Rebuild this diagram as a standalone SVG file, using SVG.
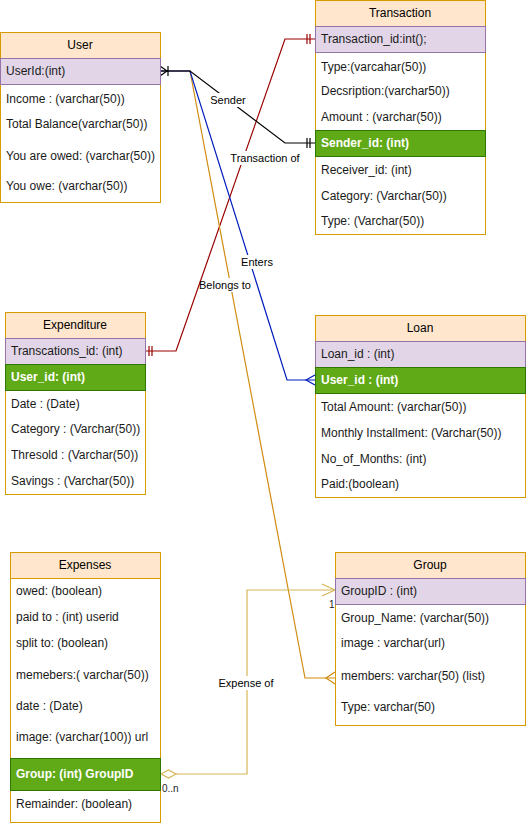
<svg xmlns="http://www.w3.org/2000/svg" width="526" height="826" viewBox="0 0 526 826">
<style>
text{font-family:"Liberation Sans",Arial,sans-serif;font-size:12px;fill:#1a1a1a;dominant-baseline:central}
.hd{text-anchor:middle;fill:#000}
.box{fill:#fff;stroke:#d79b00;stroke-width:1}
.head{fill:#ffe6cc;stroke:#d79b00;stroke-width:1}
.pk{fill:#e1d5e7;stroke:#9673a6;stroke-width:1}
.fk{fill:#60a917;stroke:#2d7600;stroke-width:1}
.fkt{fill:#fff;font-weight:bold}
.ln{fill:none;stroke-width:1.2}
.lbl{font-size:11px;text-anchor:middle;fill:#000}
.lb{fill:#fff}
</style>
<rect width="526" height="826" fill="#fff"/>
<g id="connectors">
  <!-- Transaction of (red) -->
  <path class="ln" stroke="#990000" d="M146 351 H176 L285 39 H316"/>
  <path class="ln" stroke="#990000" d="M149 346 V356 M152 346 V356 M307 34 V44 M310 34 V44"/>
  <!-- Belongs to (orange) -->
  <path class="ln" stroke="#d08c10" d="M160 71 H190 L305 678 H335"/>
  <path class="ln" stroke="#d08c10" d="M335 672 L326 678 L335 684"/>
  <!-- Enters (blue) -->
  <path class="ln" stroke="#001dbc" d="M160 71 H190 L287 380 H315"/>
  <path class="ln" stroke="#001dbc" d="M315 375 L306 380 L315 385"/>
  <!-- Sender (black) -->
  <path class="ln" stroke="#000" d="M160 71 H190 L285 143 H316"/>
  <path class="ln" stroke="#000" d="M307 138 V148 M310 138 V148"/>
  <path class="ln" stroke="#000" d="M160 66 L167 71 L160 76 M168 66 V76"/>
  <!-- Expense of (gold) -->
  <path class="ln" stroke="#d6b656" d="M176 774 H247 V590 H335"/>
  <path class="ln" stroke="#d6b656" d="M322 584 L335 590 L322 596"/>
  <path fill="#fff" stroke="#d6b656" stroke-width="1.2" d="M161 774 L168.5 770 L176 774 L168.5 778 Z"/>
  <!-- labels -->
  <rect class="lb" x="208" y="93" width="40" height="14"/>
  <text class="lbl" x="228" y="100">Sender</text>
  <rect class="lb" x="228" y="151" width="74" height="14"/>
  <text class="lbl" x="265" y="158">Transaction of</text>
  <rect class="lb" x="239" y="255" width="36" height="14"/>
  <text class="lbl" x="257" y="262">Enters</text>
  <rect class="lb" x="202" y="278" width="48" height="14"/>
  <text class="lbl" x="225" y="285">Belongs to</text>
  <rect class="lb" x="218" y="676" width="56" height="14"/>
  <text class="lbl" x="246" y="683">Expense of</text>
  <text x="329" y="604" style="font-size:10px">1</text>
  <text x="162" y="788" style="font-size:10px">0..n</text>
</g>
<g id="user">
  <rect class="box" x="0.5" y="32.5" width="160" height="170"/>
  <rect class="head" x="0.5" y="32.5" width="160" height="26"/>
  <rect class="pk" x="0.5" y="58.5" width="160" height="26"/>
  <text class="hd" x="80" y="45">User</text>
  <text x="6" y="71">UserId:(int)</text>
  <text x="6" y="99">Income : (varchar(50))</text>
  <text x="6" y="124">Total Balance(varchar(50))</text>
  <text x="6" y="156">You are owed: (varchar(50))</text>
  <text x="6" y="186">You owe: (varchar(50))</text>
</g>
<g id="transaction">
  <rect class="box" x="315.5" y="0.5" width="170" height="234"/>
  <rect class="head" x="315.5" y="0.5" width="170" height="26"/>
  <rect class="pk" x="315.5" y="26.5" width="170" height="26"/>
  <rect class="fk" x="315.5" y="130.5" width="170" height="26"/>
  <text class="hd" x="400" y="13">Transaction</text>
  <text x="321" y="39">Transaction_id:int();</text>
  <text x="321" y="67">Type:(varcahar(50))</text>
  <text x="321" y="91">Decsription:(varchar50))</text>
  <text x="321" y="117">Amount : (varchar(50))</text>
  <text class="fkt" x="321" y="143">Sender_id: (int)</text>
  <text x="321" y="170">Receiver_id: (int)</text>
  <text x="321" y="196">Category: (Varchar(50))</text>
  <text x="321" y="221">Type: (Varchar(50))</text>
</g>
<g id="expenditure">
  <rect class="box" x="5.5" y="312.5" width="140" height="182"/>
  <rect class="head" x="5.5" y="312.5" width="140" height="26"/>
  <rect class="pk" x="5.5" y="338.5" width="140" height="26"/>
  <rect class="fk" x="5.5" y="364.5" width="140" height="26"/>
  <text class="hd" x="75" y="325">Expenditure</text>
  <text x="11" y="351">Transcations_id: (int)</text>
  <text class="fkt" x="11" y="377">User_id: (int)</text>
  <text x="11" y="404">Date : (Date)</text>
  <text x="11" y="429">Category : (Varchar(50))</text>
  <text x="11" y="455">Thresold : (Varchar(50))</text>
  <text x="11" y="481">Savings : (Varchar(50))</text>
</g>
<g id="loan">
  <rect class="box" x="315.5" y="315.5" width="210" height="182"/>
  <rect class="head" x="315.5" y="315.5" width="210" height="26"/>
  <rect class="pk" x="315.5" y="341.5" width="210" height="26"/>
  <rect class="fk" x="315.5" y="367.5" width="210" height="26"/>
  <text class="hd" x="420" y="328">Loan</text>
  <text x="321" y="354">Loan_id : (int)</text>
  <text class="fkt" x="321" y="380">User_id : (int)</text>
  <text x="321" y="407">Total Amount: (varchar(50))</text>
  <text x="321" y="433">Monthly Installment: (Varchar(50))</text>
  <text x="321" y="459">No_of_Months: (int)</text>
  <text x="321" y="484">Paid:(boolean)</text>
</g>
<g id="expenses">
  <rect class="box" x="10.5" y="552.5" width="150" height="270"/>
  <rect class="head" x="10.5" y="552.5" width="150" height="26"/>
  <rect class="fk" x="10.5" y="758.5" width="150" height="32"/>
  <text class="hd" x="85" y="565">Expenses</text>
  <text x="16" y="591">owed: (boolean)</text>
  <text x="16" y="617">paid to : (int) userid</text>
  <text x="16" y="643">split to: (boolean)</text>
  <text x="16" y="675">memebers:( varchar(50))</text>
  <text x="16" y="706">date : (Date)</text>
  <text x="16" y="737">image: (varchar(100)) url</text>
  <text class="fkt" x="16" y="774">Group: (int) GroupID</text>
  <text x="16" y="804">Remainder: (boolean)</text>
</g>
<g id="group">
  <rect class="box" x="335.5" y="552.5" width="190" height="173"/>
  <rect class="head" x="335.5" y="552.5" width="190" height="26"/>
  <rect class="pk" x="335.5" y="578.5" width="190" height="26"/>
  <text class="hd" x="430" y="565">Group</text>
  <text x="341" y="591">GroupID : (int)</text>
  <text x="341" y="618">Group_Name: (varchar(50))</text>
  <text x="341" y="643">image : varchar(url)</text>
  <text x="341" y="676">members: varchar(50) (list)</text>
  <text x="341" y="707">Type: varchar(50)</text>
</g>
</svg>
